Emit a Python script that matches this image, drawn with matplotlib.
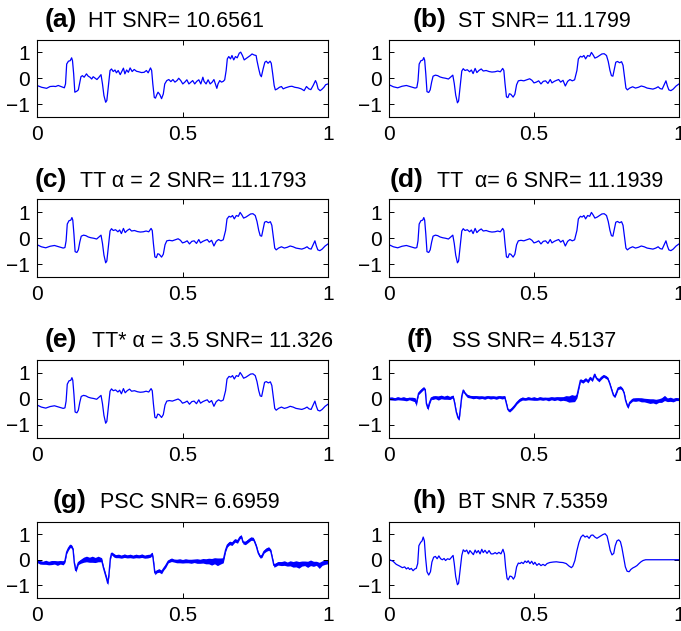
import numpy as np
import matplotlib
matplotlib.use("Agg")
import matplotlib.pyplot as plt

plt.rcParams["font.family"] = ["Liberation Sans", "DejaVu Sans"]

# hard thresholding estimate
ht_x = [0.000, 0.016, 0.033, 0.045, 0.056, 0.064, 0.073, 0.082, 0.090, 0.094, 0.098, 0.102,
        0.108, 0.114, 0.119, 0.122, 0.126, 0.130, 0.137, 0.142, 0.146, 0.151, 0.156, 0.162,
        0.170, 0.176, 0.182, 0.188, 0.193, 0.199, 0.206, 0.213, 0.220, 0.225, 0.230, 0.236,
        0.240, 0.245, 0.251, 0.256, 0.262, 0.268, 0.273, 0.279, 0.286, 0.293, 0.297, 0.302,
        0.308, 0.314, 0.320, 0.327, 0.334, 0.342, 0.350, 0.359, 0.368, 0.376, 0.382, 0.390,
        0.394, 0.398, 0.403, 0.407, 0.412, 0.416, 0.422, 0.428, 0.434, 0.439, 0.446, 0.453,
        0.460, 0.467, 0.474, 0.481, 0.487, 0.494, 0.501, 0.508, 0.515, 0.522, 0.529, 0.535,
        0.542, 0.549, 0.556, 0.563, 0.570, 0.574, 0.581, 0.588, 0.595, 0.602, 0.608, 0.613,
        0.618, 0.622, 0.628, 0.634, 0.640, 0.645, 0.650, 0.654, 0.659, 0.665, 0.670, 0.676,
        0.682, 0.688, 0.695, 0.700, 0.706, 0.712, 0.717, 0.725, 0.733, 0.739, 0.746, 0.753,
        0.756, 0.762, 0.767, 0.771, 0.777, 0.783, 0.788, 0.794, 0.801, 0.805, 0.810, 0.815,
        0.819, 0.826, 0.833, 0.840, 0.846, 0.854, 0.860, 0.868, 0.876, 0.886, 0.897, 0.908,
        0.918, 0.926, 0.934, 0.941, 0.949, 0.957, 0.961, 0.966, 0.973, 0.979, 0.986, 0.992,
        1.000]
ht_y = [-0.28, -0.35, -0.39, -0.32, -0.31, -0.32, -0.28, -0.32, -0.36, -0.37, -0.22, 0.55,
        0.66, 0.68, 0.79, 0.68, 0.17, -0.54, -0.50, -0.45, -0.22, 0.06, 0.10, 0.04,
        0.17, 0.08, 0.04, -0.03, 0.06, 0.01, -0.05, 0.04, 0.14, -0.22, -0.67, -0.93,
        -0.86, -0.35, 0.30, 0.36, 0.26, 0.32, 0.21, 0.30, 0.14, 0.30, 0.39, 0.17,
        0.32, 0.23, 0.40, 0.26, 0.34, 0.27, 0.25, 0.22, 0.23, 0.30, 0.21, 0.40,
        0.30, -0.22, -0.74, -0.77, -0.63, -0.54, -0.63, -0.79, -0.61, -0.22, -0.09, -0.05,
        -0.13, -0.05, -0.15, -0.09, 0.00, -0.09, -0.22, -0.15, -0.06, -0.22, -0.15, -0.09,
        -0.22, -0.12, -0.06, -0.22, 0.04, -0.12, -0.22, -0.06, -0.22, -0.15, -0.05, -0.22,
        -0.39, -0.22, -0.09, -0.15, -0.12, -0.06, 0.30, 0.75, 0.84, 0.75, 0.88, 0.71,
        0.84, 0.79, 0.97, 1.01, 0.88, 0.71, 0.75, 0.81, 0.88, 0.94, 0.90, 0.88,
        0.68, 0.36, 0.13, 0.06, 0.36, 0.62, 0.66, 0.58, 0.66, 0.58, 0.17, -0.28,
        -0.45, -0.41, -0.35, -0.32, -0.41, -0.37, -0.35, -0.32, -0.31, -0.35, -0.37, -0.41,
        -0.48, -0.32, -0.41, -0.44, -0.28, -0.09, -0.19, -0.41, -0.48, -0.43, -0.35, -0.25,
        -0.22]

# soft / translation-invariant thresholding estimates
st_x = [0.000, 0.015, 0.030, 0.045, 0.060, 0.075, 0.090, 0.096, 0.100, 0.104, 0.110, 0.116,
        0.120, 0.123, 0.127, 0.131, 0.137, 0.142, 0.147, 0.152, 0.160, 0.168, 0.176, 0.185,
        0.195, 0.205, 0.213, 0.220, 0.225, 0.230, 0.236, 0.240, 0.245, 0.251, 0.256, 0.262,
        0.270, 0.278, 0.284, 0.290, 0.297, 0.303, 0.310, 0.318, 0.325, 0.335, 0.345, 0.355,
        0.365, 0.375, 0.384, 0.392, 0.396, 0.400, 0.405, 0.410, 0.415, 0.420, 0.428, 0.434,
        0.440, 0.446, 0.455, 0.465, 0.475, 0.485, 0.493, 0.500, 0.508, 0.516, 0.524, 0.532,
        0.540, 0.548, 0.556, 0.562, 0.570, 0.578, 0.585, 0.592, 0.600, 0.608, 0.616, 0.624,
        0.632, 0.640, 0.648, 0.653, 0.660, 0.666, 0.672, 0.678, 0.685, 0.692, 0.698, 0.704,
        0.710, 0.718, 0.726, 0.734, 0.742, 0.750, 0.756, 0.762, 0.767, 0.772, 0.777, 0.782,
        0.788, 0.795, 0.802, 0.807, 0.812, 0.817, 0.822, 0.830, 0.840, 0.850, 0.860, 0.870,
        0.880, 0.890, 0.900, 0.910, 0.920, 0.928, 0.935, 0.942, 0.950, 0.955, 0.960, 0.965,
        0.972, 0.980, 0.990, 1.000]
st_y = [-0.25, -0.33, -0.37, -0.31, -0.28, -0.33, -0.38, -0.36, -0.10, 0.55, 0.68, 0.70,
        0.80, 0.70, 0.15, -0.52, -0.55, -0.45, -0.15, 0.08, 0.12, 0.10, 0.05, 0.02,
        0.00, -0.03, 0.05, 0.12, -0.20, -0.65, -0.95, -0.88, -0.35, 0.28, 0.37, 0.30,
        0.33, 0.25, 0.32, 0.18, 0.38, 0.22, 0.30, 0.36, 0.28, 0.30, 0.26, 0.24,
        0.25, 0.28, 0.25, 0.38, 0.30, -0.20, -0.72, -0.75, -0.60, -0.62, -0.73, -0.62,
        -0.25, -0.10, -0.08, -0.10, -0.06, -0.02, -0.08, -0.18, -0.15, -0.10, -0.22, -0.12,
        -0.10, -0.20, -0.05, -0.18, -0.12, -0.08, -0.05, -0.15, -0.08, -0.30, -0.12, -0.05,
        -0.10, -0.06, 0.30, 0.75, 0.85, 0.82, 0.88, 0.75, 0.88, 0.85, 1.00, 0.90,
        0.78, 0.82, 0.88, 0.94, 0.95, 0.88, 0.65, 0.30, 0.10, 0.08, 0.35, 0.62,
        0.65, 0.60, 0.64, 0.50, 0.05, -0.38, -0.45, -0.38, -0.33, -0.38, -0.35, -0.30,
        -0.33, -0.38, -0.40, -0.42, -0.38, -0.33, -0.40, -0.42, -0.22, -0.10, -0.30, -0.45,
        -0.48, -0.42, -0.30, -0.22]

# SS estimate: centre of the noisy trace and its half spread
ss_x = [0.00, 0.01, 0.02, 0.03, 0.04, 0.05, 0.06, 0.07, 0.08, 0.09, 0.094, 0.098, 0.102,
        0.11, 0.12, 0.125, 0.129, 0.134, 0.14, 0.146, 0.15, 0.16, 0.17, 0.18, 0.19, 0.20,
        0.21, 0.221, 0.226, 0.232, 0.238, 0.242, 0.246, 0.251, 0.256, 0.262, 0.27, 0.28,
        0.29, 0.30, 0.31, 0.32, 0.33, 0.34, 0.35, 0.36, 0.37, 0.38, 0.39, 0.399, 0.405,
        0.41, 0.416, 0.425, 0.433, 0.441, 0.451, 0.46, 0.47, 0.48, 0.49, 0.50, 0.51, 0.52,
        0.53, 0.54, 0.55, 0.56, 0.57, 0.58, 0.59, 0.60, 0.61, 0.62, 0.63, 0.64, 0.648,
        0.655, 0.66, 0.669, 0.678, 0.686, 0.694, 0.701, 0.709, 0.715, 0.724, 0.732, 0.740,
        0.747, 0.754, 0.761, 0.768, 0.774, 0.779, 0.784, 0.79, 0.798, 0.805, 0.811, 0.816,
        0.821, 0.824, 0.83, 0.84, 0.85, 0.86, 0.87, 0.88, 0.89, 0.90, 0.91, 0.92, 0.93,
        0.94, 0.95, 0.96, 0.97, 0.98, 0.99, 1.00]
ss_c = [0.00, 0.00, -0.02, 0.01, -0.01, 0.00, -0.03, 0.00, -0.02, -0.05, -0.20, 0.00, 0.20,
        0.30, 0.40, 0.33, -0.20, -0.38, -0.15, 0.02, 0.03, 0.05, 0.02, 0.06, 0.03, 0.05,
        0.02, 0.08, -0.15, -0.52, -0.75, -0.78, -0.40, 0.10, 0.32, 0.20, 0.10, 0.07,
        0.05, 0.06, 0.04, 0.05, 0.03, 0.06, 0.04, 0.05, 0.03, 0.06, 0.04, 0.06, -0.20,
        -0.43, -0.47, -0.38, -0.28, -0.16, -0.05, 0.00, -0.02, 0.01, -0.01, 0.00, -0.02, 0.01,
        -0.01, 0.00, -0.02, 0.01, -0.01, 0.01, -0.01, 0.00, 0.01, -0.02, 0.01, 0.00, 0.10,
        0.45, 0.70, 0.65, 0.74, 0.66, 0.80, 0.70, 0.93, 0.78, 0.70, 0.80, 0.87,
        0.83, 0.78, 0.58, 0.33, 0.12, 0.09, 0.22, 0.40, 0.43, 0.36, 0.20, -0.08,
        -0.25, -0.33, -0.15, -0.04, -0.04, -0.03, -0.05, -0.06, -0.08, -0.10, -0.09, -0.12, -0.08,
        -0.06, 0.02, -0.05, -0.03, -0.06, -0.02, -0.03]
ss_w = [0.05, 0.06, 0.05, 0.06, 0.05, 0.07, 0.06, 0.05, 0.07, 0.08, 0.10, 0.05, 0.05,
        0.06, 0.05, 0.05, 0.06, 0.07, 0.06, 0.05, 0.07, 0.06, 0.08, 0.07, 0.06, 0.08,
        0.06, 0.05, 0.05, 0.05, 0.06, 0.05, 0.05, 0.05, 0.05, 0.05, 0.06, 0.05,
        0.06, 0.05, 0.06, 0.05, 0.06, 0.05, 0.06, 0.05, 0.06, 0.05, 0.06, 0.05, 0.05,
        0.05, 0.05, 0.05, 0.05, 0.05, 0.06, 0.06, 0.05, 0.06, 0.05, 0.07, 0.05, 0.06,
        0.06, 0.05, 0.07, 0.06, 0.07, 0.06, 0.08, 0.07, 0.10, 0.12, 0.14, 0.12, 0.08,
        0.07, 0.06, 0.06, 0.06, 0.06, 0.06, 0.05, 0.05, 0.05, 0.06, 0.06, 0.05,
        0.06, 0.05, 0.05, 0.05, 0.05, 0.05, 0.05, 0.05, 0.06, 0.05, 0.05, 0.05,
        0.05, 0.06, 0.05, 0.06, 0.07, 0.06, 0.08, 0.07, 0.08, 0.09, 0.08, 0.09, 0.07,
        0.09, 0.10, 0.07, 0.08, 0.07, 0.06, 0.05]

# PSC estimate: centre of the noisy trace and its half spread
psc_x = [0.00, 0.01, 0.02, 0.03, 0.04, 0.05, 0.06, 0.07, 0.08, 0.09, 0.096, 0.102, 0.108,
         0.114, 0.119, 0.124, 0.128, 0.133, 0.137, 0.142, 0.15, 0.16, 0.17, 0.18, 0.19,
         0.20, 0.21, 0.222, 0.228, 0.233, 0.239, 0.243, 0.247, 0.252, 0.256, 0.265, 0.27,
         0.28, 0.29, 0.30, 0.31, 0.32, 0.33, 0.34, 0.35, 0.36, 0.37, 0.38, 0.39, 0.396,
         0.399, 0.405, 0.412, 0.419, 0.428, 0.435, 0.442, 0.451, 0.462, 0.47, 0.48, 0.49,
         0.50, 0.51, 0.52, 0.53, 0.54, 0.55, 0.56, 0.57, 0.58, 0.59, 0.60, 0.61, 0.62,
         0.63, 0.64, 0.648, 0.654, 0.662, 0.670, 0.680, 0.689, 0.697, 0.702, 0.708, 0.716,
         0.725, 0.735, 0.743, 0.748, 0.754, 0.760, 0.767, 0.773, 0.780, 0.788, 0.796, 0.803,
         0.809, 0.814, 0.819, 0.828, 0.84, 0.85, 0.86, 0.87, 0.88, 0.89, 0.90, 0.91, 0.92,
         0.93, 0.94, 0.95, 0.96, 0.97, 0.98, 0.99, 1.00]
psc_c = [-0.05, -0.10, -0.12, -0.10, -0.13, -0.11, -0.10, -0.13, -0.10, -0.12, -0.05, 0.30, 0.45,
         0.55, 0.52, 0.40, -0.10, -0.42, -0.30, -0.12, -0.06, 0.00, 0.03, 0.00, 0.02,
         -0.01, 0.03, 0.00, -0.30, -0.50, -0.74, -0.92, -0.60, 0.05, 0.25, 0.17, 0.14,
         0.15, 0.12, 0.16, 0.13, 0.15, 0.12, 0.15, 0.13, 0.16, 0.12, 0.14, 0.16, 0.24,
         0.05, -0.52, -0.45, -0.42, -0.48, -0.35, -0.24, -0.06, 0.00, -0.03, -0.05, -0.04,
         -0.06, -0.04, -0.05, -0.06, -0.04, -0.05, -0.06, -0.04, -0.06, -0.05, -0.08, -0.04, -0.08,
         -0.05, -0.02, 0.38, 0.57, 0.66, 0.63, 0.76, 0.72, 0.88, 0.92, 0.68, 0.66,
         0.74, 0.83, 0.82, 0.70, 0.52, 0.27, 0.12, 0.15, 0.32, 0.40, 0.44, 0.36,
         0.05, -0.22, -0.20, -0.14, -0.15, -0.13, -0.17, -0.14, -0.18, -0.16, -0.20, -0.15, -0.14,
         -0.18, -0.12, -0.16, -0.14, -0.22, -0.13, -0.10, -0.09]
psc_w = [0.06, 0.07, 0.06, 0.08, 0.07, 0.08, 0.07, 0.09, 0.07, 0.08, 0.06, 0.06, 0.07,
         0.07, 0.06, 0.06, 0.06, 0.07, 0.07, 0.07, 0.08, 0.10, 0.11, 0.10, 0.12,
         0.10, 0.11, 0.08, 0.07, 0.08, 0.08, 0.07, 0.07, 0.06, 0.06, 0.07, 0.06,
         0.07, 0.06, 0.07, 0.06, 0.07, 0.06, 0.07, 0.06, 0.07, 0.06, 0.07, 0.06, 0.06,
         0.06, 0.07, 0.06, 0.07, 0.07, 0.06, 0.07, 0.06, 0.07, 0.06, 0.07, 0.08,
         0.07, 0.08, 0.07, 0.08, 0.07, 0.09, 0.08, 0.09, 0.10, 0.11, 0.13, 0.12, 0.15,
         0.12, 0.10, 0.07, 0.07, 0.07, 0.07, 0.07, 0.07, 0.06, 0.06, 0.06, 0.07,
         0.07, 0.07, 0.06, 0.06, 0.06, 0.06, 0.06, 0.06, 0.06, 0.07, 0.07, 0.06,
         0.06, 0.07, 0.07, 0.07, 0.08, 0.09, 0.08, 0.10, 0.11, 0.12, 0.13, 0.10, 0.09,
         0.12, 0.11, 0.10, 0.08, 0.12, 0.09, 0.08, 0.07]

# BT estimate
bt_x = [0.000, 0.014, 0.025, 0.037, 0.046, 0.054, 0.060, 0.066, 0.071, 0.077, 0.083, 0.089,
        0.094, 0.099, 0.103, 0.109, 0.114, 0.118, 0.122, 0.126, 0.131, 0.137, 0.143, 0.148,
        0.154, 0.160, 0.166, 0.172, 0.178, 0.184, 0.190, 0.195, 0.202, 0.209, 0.216, 0.221,
        0.225, 0.230, 0.236, 0.240, 0.245, 0.251, 0.256, 0.262, 0.268, 0.274, 0.279, 0.285,
        0.291, 0.297, 0.302, 0.308, 0.314, 0.320, 0.325, 0.331, 0.338, 0.345, 0.352, 0.359,
        0.366, 0.372, 0.379, 0.386, 0.393, 0.398, 0.402, 0.407, 0.411, 0.417, 0.423, 0.429,
        0.434, 0.440, 0.446, 0.452, 0.457, 0.463, 0.469, 0.475, 0.480, 0.486, 0.492, 0.498,
        0.503, 0.510, 0.517, 0.524, 0.531, 0.538, 0.545, 0.554, 0.566, 0.577, 0.589, 0.600,
        0.611, 0.621, 0.629, 0.634, 0.641, 0.648, 0.655, 0.662, 0.669, 0.676, 0.683, 0.690,
        0.697, 0.703, 0.710, 0.717, 0.724, 0.731, 0.738, 0.745, 0.752, 0.757, 0.763, 0.769,
        0.775, 0.780, 0.786, 0.792, 0.798, 0.803, 0.809, 0.815, 0.821, 0.828, 0.834, 0.841,
        0.848, 0.855, 0.862, 0.869, 0.876, 0.885, 0.899, 1.000]
bt_y = [0.01, -0.06, -0.18, -0.25, -0.31, -0.28, -0.36, -0.31, -0.38, -0.34, -0.43, -0.36,
        -0.34, -0.15, 0.55, 0.68, 0.74, 0.89, 0.74, 0.10, -0.47, -0.60, -0.47, -0.09,
        0.10, 0.13, 0.04, 0.15, 0.04, 0.00, 0.05, -0.03, 0.04, 0.01, 0.10, 0.17,
        -0.15, -0.66, -0.98, -0.92, -0.41, 0.17, 0.39, 0.32, 0.38, 0.23, 0.36, 0.28,
        0.20, 0.38, 0.27, 0.36, 0.23, 0.41, 0.28, 0.37, 0.25, 0.36, 0.23, 0.23,
        0.28, 0.23, 0.29, 0.23, 0.41, 0.23, -0.28, -0.73, -0.79, -0.64, -0.66, -0.76,
        -0.66, -0.28, -0.13, -0.15, -0.10, -0.15, -0.05, -0.11, -0.04, -0.15, -0.06, -0.18,
        -0.10, -0.22, -0.15, -0.23, -0.18, -0.23, -0.15, -0.11, -0.09, -0.08, -0.10, -0.11,
        -0.15, -0.25, -0.31, -0.25, -0.03, 0.36, 0.68, 0.89, 0.97, 0.89, 0.93, 0.84,
        0.96, 0.97, 0.89, 0.84, 0.89, 0.94, 0.99, 1.02, 0.93, 0.68, 0.36, 0.19,
        0.25, 0.55, 0.74, 0.78, 0.71, 0.48, 0.10, -0.28, -0.45, -0.47, -0.38, -0.32,
        -0.28, -0.23, -0.15, -0.08, -0.03, 0.00, 0.00, 0.00]

labels = ["(a)", "(b)", "(c)", "(d)", "(e)", "(f)", "(g)", "(h)"]
titles = ["HT SNR= 10.6561", "ST SNR= 11.1799", "TT \u03b1 = 2 SNR= 11.1793",
          "TT  \u03b1= 6 SNR= 11.1939", "TT* \u03b1 = 3.5 SNR= 11.326", "SS SNR= 4.5137",
          "PSC SNR= 6.6959", "BT SNR 7.5359"]

W, H = 681, 631
fig = plt.figure(figsize=(W / 100, H / 100), dpi=100)

col_left = [37, 389]
col_width = [291, 290]
row_top = [39.5, 199.5, 359.5, 521.5]
row_bottom = [117, 277, 437.5, 598]
row_base = [27, 187, 347, 508]
# pixel x of the bold panel tag and of the title text
tag_x = [45, 413, 35, 390, 45, 407, 53, 413]
txt_x = [88, 458, 80, 437, 92, 452, 100, 458]

curves = {0: (ht_x, ht_y), 1: (st_x, st_y), 2: (st_x, st_y), 3: (st_x, st_y),
          4: (st_x, st_y), 7: (bt_x, bt_y)}
bands = {5: (ss_x, ss_c, ss_w), 6: (psc_x, psc_c, psc_w)}

for i in range(8):
    r, c = i // 2, i % 2
    ax = fig.add_axes([col_left[c] / W, 1 - row_bottom[r] / H,
                       col_width[c] / W, (row_bottom[r] - row_top[r]) / H])
    if i in curves:
        x, y = curves[i]
        ax.plot(x, y, color="#0000ff", lw=0.9)
    else:
        x, cen, w = bands[i]
        cen, w = np.array(cen), np.array(w)
        ax.fill_between(x, cen - w, cen + w, color="#0000ff", lw=0)
        ax.plot(x, cen, color="#0000ff", lw=1.0)
    ax.set_xlim(0, 1)
    ax.set_ylim(-1.5, 1.5)
    ax.set_xticks([0, 0.5, 1])
    ax.set_xticklabels(["0", "0.5", "1"])
    ax.set_yticks([-1, 0, 1])
    ax.tick_params(direction="in", top=True, right=True, length=3.5, width=0.7,
                   labelsize=15)
    ax.tick_params(axis="x", pad=6)
    ax.tick_params(axis="y", pad=5)
    for s in ax.spines.values():
        s.set_linewidth(0.8)

    fig.text(tag_x[i] / W, 1 - row_base[r] / H, labels[i], fontsize=19,
             fontweight="bold", va="baseline")
    fig.text(txt_x[i] / W, 1 - row_base[r] / H, titles[i], fontsize=15.5,
             va="baseline")

fig.savefig("out.png", dpi=100)
